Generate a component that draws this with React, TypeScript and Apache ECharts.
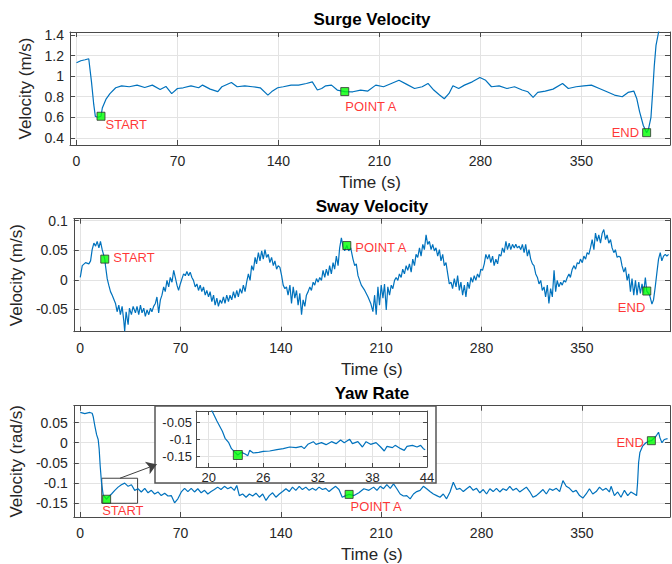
import React, { useEffect, useRef } from "react";
import * as echarts from "echarts";

const timeTicks = [0, 70, 140, 210, 280, 350];
const surgeTicks = [0.4, 0.6, 0.8, 1, 1.2, 1.4];
const swayTicks = [-0.05, 0, 0.05, 0.1];
const yawTicks = [-0.15, -0.1, -0.05, 0, 0.05];
const insetTimeTicks = [20, 23, 26, 29, 32, 35, 38, 41, 44];
const insetTimeLabels = [20, 26, 32, 38, 44];
const insetYawTicks = [-0.15, -0.1, -0.05];

const surgeTime = [0, 3, 6, 8.5, 10.4, 12, 13.1, 15, 17, 17.9, 20.6, 23.2, 27.2, 31.3, 36.6, 42, 47.3, 52.6, 58, 62, 66, 70, 74, 79.4, 84.7, 87.4, 92.7, 98, 100.8, 107.4, 111.4, 116.7, 122, 127.4, 132.7, 135.4, 139.5, 143.4, 148.8, 154, 159.4, 163.5, 167, 170, 172.8, 176.8, 180.8, 186, 191.6, 197, 202, 207.5, 212.9, 218.3, 223.6, 229, 234.4, 239.7, 243.7, 247.7, 251.7, 255, 258.3, 261, 265, 269, 274.4, 279.7, 283.7, 287.7, 293, 298.4, 303.7, 309, 313, 316.6, 319.8, 325, 330.4, 337, 341, 346.4, 351.7, 357, 362.5, 367.8, 373, 378.4, 382.4, 386.4, 388.5, 390.4, 393, 395.3, 396.5, 398.3, 399.5, 400.6, 401.8, 403.6, 405];
const surgeVelocity = [1.13, 1.15, 1.16, 1.17, 0.945, 0.72, 0.607, 0.6, 0.61, 0.69, 0.78, 0.83, 0.887, 0.906, 0.897, 0.913, 0.89, 0.913, 0.87, 0.9, 0.83, 0.88, 0.887, 0.906, 0.887, 0.913, 0.874, 0.85, 0.897, 0.939, 0.897, 0.906, 0.897, 0.887, 0.816, 0.85, 0.887, 0.897, 0.913, 0.913, 0.929, 0.945, 0.865, 0.88, 0.906, 0.913, 0.865, 0.85, 0.848, 0.865, 0.855, 0.913, 0.897, 0.929, 0.96, 0.92, 0.88, 0.897, 0.929, 0.865, 0.816, 0.78, 0.832, 0.906, 0.88, 0.913, 0.945, 0.987, 0.96, 0.897, 0.906, 0.88, 0.897, 0.865, 0.848, 0.794, 0.842, 0.855, 0.874, 0.929, 0.88, 0.897, 0.906, 0.913, 0.88, 0.848, 0.816, 0.8, 0.842, 0.855, 0.78, 0.655, 0.52, 0.45, 0.48, 0.6, 0.85, 1.1, 1.3, 1.43, 1.6];

const swayTime = [0, 1.4, 3.7, 6, 7.2, 8.3, 9.5, 10.7, 11.8, 13, 14.1, 15.3, 17.1, 17.6, 18.8, 19.9, 21.1, 22.3, 24.6, 25.7, 26.9, 28, 29.2, 30.4, 31, 32, 33.4, 34.3, 35.7, 36.9, 38.5, 39.6, 40.8, 42, 43.1, 44.3, 45.4, 46.6, 47.8, 49, 50, 51.2, 52.4, 53.5, 54.7, 55.9, 57, 58.2, 59.3, 60.5, 61.7, 62.8, 64, 65.2, 66.3, 67.5, 68.6, 69.8, 71, 72.1, 73.3, 74.4, 75.6, 76.7, 77.9, 79, 80.2, 81.4, 82.5, 83.7, 84.8, 86, 87.2, 88.3, 89.5, 90.6, 91.8, 93, 94.1, 95.3, 96.4, 97.6, 98.7, 99.9, 101, 102.2, 103.4, 104.5, 105.7, 106.9, 108, 109.2, 110.3, 111.5, 112.7, 113.8, 115, 116.1, 117.3, 118.5, 119.6, 120.8, 122, 123, 124.3, 125.4, 126.6, 127.7, 128.9, 130, 131.2, 132.3, 133.5, 134.7, 135.8, 137, 138.1, 139.3, 140.5, 141.6, 142.8, 143.9, 145, 146.3, 147.4, 148.6, 149.7, 150.9, 152, 153.2, 154.4, 155.5, 156.7, 157.8, 159, 160.2, 161.3, 162.5, 163.6, 164.8, 166, 167.1, 168.3, 169.4, 170.6, 171.7, 172.9, 174, 175.2, 176.4, 177.5, 178.7, 179.9, 181, 182.2, 183.3, 184.5, 186, 187.3, 188.7, 190.3, 191.5, 192.6, 193.8, 196.1, 198.5, 200.8, 202.7, 204.2, 205.4, 206.5, 207.7, 208.8, 210, 211.2, 212.3, 213.5, 214.6, 215.8, 217, 218.1, 219.3, 220.4, 221.6, 222.7, 223.9, 225, 226.2, 227.4, 228.5, 229.7, 230.9, 232, 233.2, 234.3, 235.5, 236.7, 237.8, 239, 240.1, 241.3, 242.4, 243.6, 244.8, 245.9, 247.1, 248.2, 249.4, 250.6, 251.7, 252.9, 254, 255.2, 256.4, 257.5, 258.7, 259.8, 261, 262.2, 263.3, 264.5, 265.6, 266.8, 268, 269.1, 270.3, 271.4, 272.6, 273.8, 274.9, 276, 277.2, 278.4, 279.5, 280.7, 281.9, 283, 284.2, 285.3, 286.5, 287.7, 288.8, 290, 291.2, 292.3, 293.5, 294.6, 295.8, 297, 298.1, 299.3, 300.4, 301.6, 302.8, 303.9, 305, 306.2, 307.4, 308.5, 309.7, 310.8, 312, 313.1, 314.3, 315.5, 316.6, 317.8, 319, 320.1, 321.3, 322.4, 323.6, 324.7, 325.9, 327, 328.2, 329.4, 330.6, 331.7, 332.8, 334, 335.2, 336.3, 337.5, 338.6, 339.8, 341, 342, 343.3, 344.5, 345.6, 346.8, 348, 349, 350.3, 351.4, 352.6, 353.7, 354.9, 356, 357.2, 358.4, 359.5, 360.7, 361.8, 363, 364.2, 365.3, 366.5, 367.6, 368.8, 370, 371.1, 372.3, 373.4, 374.6, 375.8, 376.9, 378, 379.3, 380.4, 381.6, 382.7, 383.9, 385, 386.2, 387.4, 388.5, 389.7, 390.8, 392, 393.1, 394.3, 395.3, 397.3, 398.9, 400, 401.2, 402.4, 403.5, 404.7, 405.8, 407, 408.2, 409.3, 410.5];
const swayVelocity = [0.004, 0.024, 0.029, 0.027, 0.032, 0.051, 0.062, 0.057, 0.065, 0.054, 0.065, 0.051, 0.035, 0.024, 0.002, -0.009, -0.02, -0.026, -0.04, -0.054, -0.043, -0.059, -0.045, -0.07, -0.087, -0.054, -0.076, -0.048, -0.059, -0.045, -0.056, -0.045, -0.059, -0.043, -0.056, -0.048, -0.062, -0.051, -0.059, -0.048, -0.054, -0.045, -0.04, -0.029, -0.056, -0.034, -0.026, -0.012, -0.02, -0.001, -0.012, 0.004, -0.004, 0.016, 0.004, -0.009, -0.018, -0.007, 0.002, 0.01, 0.007, 0.014, 0.007, 0.013, 0.004, -0.001, -0.012, -0.007, -0.018, -0.009, -0.02, -0.012, -0.026, -0.018, -0.029, -0.02, -0.037, -0.026, -0.043, -0.031, -0.045, -0.034, -0.04, -0.029, -0.04, -0.026, -0.037, -0.026, -0.034, -0.02, -0.031, -0.018, -0.029, -0.015, -0.023, -0.009, -0.02, -0.004, 0.01, -0.001, 0.024, 0.016, 0.038, 0.027, 0.046, 0.032, 0.049, 0.035, 0.051, 0.038, 0.043, 0.029, 0.038, 0.024, 0.032, 0.018, 0.024, 0.021, 0.007, -0.009, -0.015, -0.012, -0.026, -0.009, -0.04, -0.012, -0.031, -0.018, -0.043, -0.023, -0.059, -0.034, -0.045, -0.026, -0.02, -0.012, -0.018, -0.004, -0.009, 0.002, -0.004, 0.004, -0.001, 0.016, 0.004, 0.018, 0.007, 0.024, 0.01, 0.029, 0.018, 0.04, 0.024, 0.054, 0.071, 0.057, 0.049, 0.058, 0.049, 0.054, 0.035, 0.024, 0.027, 0.007, -0.009, -0.018, -0.029, -0.04, -0.054, -0.026, -0.059, -0.012, -0.043, -0.009, -0.031, -0.007, -0.051, -0.012, -0.026, -0.009, -0.015, -0.001, 0.004, -0.001, 0.01, 0.004, 0.018, 0.01, 0.024, 0.016, 0.027, 0.013, 0.035, 0.024, 0.043, 0.038, 0.054, 0.04, 0.06, 0.051, 0.076, 0.06, 0.065, 0.051, 0.06, 0.049, 0.054, 0.04, 0.051, 0.032, 0.043, 0.024, 0.029, 0.01, -0.007, -0.004, -0.015, 0.002, -0.012, 0.007, -0.018, -0.004, -0.026, -0.009, -0.029, -0.004, -0.015, 0.004, -0.004, 0.007, -0.001, 0.01, 0.004, 0.018, 0.016, 0.027, 0.043, 0.035, 0.043, 0.029, 0.04, 0.024, 0.035, 0.027, 0.043, 0.04, 0.054, 0.046, 0.065, 0.051, 0.062, 0.051, 0.06, 0.054, 0.06, 0.054, 0.057, 0.051, 0.06, 0.046, 0.06, 0.04, 0.051, 0.035, 0.027, 0.024, 0.01, 0.004, -0.007, -0.001, -0.018, -0.012, -0.029, -0.009, -0.04, -0.015, -0.029, 0.016, -0.02, -0.001, -0.012, -0.004, -0.009, -0.001, -0.004, 0.004, 0.01, 0.004, 0.018, 0.024, 0.018, 0.029, 0.027, 0.035, 0.029, 0.04, 0.035, 0.046, 0.043, 0.054, 0.068, 0.051, 0.079, 0.065, 0.076, 0.062, 0.079, 0.085, 0.068, 0.076, 0.062, 0.068, 0.054, 0.046, 0.051, 0.038, 0.04, 0.038, 0.024, 0.013, 0.021, -0.001, 0.01, -0.02, 0.002, -0.026, -0.001, -0.026, -0.004, -0.023, -0.007, -0.023, 0.004, -0.019, -0.026, -0.041, -0.034, -0.012, 0.013, 0.035, 0.046, 0.032, 0.04, 0.043, 0.04, 0.043];

const yawTime = [0, 3.2, 6.7, 8.3, 9, 10.2, 11.4, 12.5, 13.2, 13.9, 14.8, 16, 18.4, 19.5, 21.8, 24.1, 26.4, 28.7, 31, 33.4, 35.7, 38, 40.3, 42.6, 45, 47.3, 49.6, 51.9, 54.2, 56.5, 58.9, 61.2, 63.5, 65.8, 68.1, 70.5, 72.8, 75.1, 77.4, 79.7, 82, 84.4, 86.7, 89, 91.3, 93.6, 95.9, 98.2, 100.6, 102.9, 105.2, 107.5, 109.2, 111, 113.3, 115.7, 118, 120.3, 122.6, 125, 127.3, 129.6, 131.9, 134.2, 136.5, 138.9, 141.2, 143.5, 145.8, 148.1, 150.4, 152.8, 155, 157.4, 159.7, 162, 164.3, 166.6, 169, 171.3, 173.6, 175.9, 178.2, 180.5, 182.8, 185.2, 187.6, 191, 194.4, 197.9, 201.4, 204.7, 207, 209.3, 211.6, 213.9, 216.3, 218.6, 220.9, 223.2, 225.5, 227.8, 230.2, 232.5, 234.8, 237.1, 239.4, 241.7, 244, 246.4, 248.7, 251, 253.3, 255.6, 258, 260.3, 262.6, 264.9, 267.3, 269.6, 271.9, 274.2, 276.5, 278.8, 281.2, 283.5, 285.8, 288.1, 290.4, 292.7, 295, 297.4, 299.7, 302, 304.3, 306.6, 309, 311.3, 313.6, 315.9, 318.2, 320.5, 322.9, 325.2, 327.5, 329.8, 332.2, 334.5, 336.8, 339.1, 341.4, 343.7, 346, 348.4, 350.7, 353, 355.3, 357.6, 360, 362.3, 364.6, 366.9, 369.2, 370.4, 372.7, 375, 377.3, 379.7, 382, 384.3, 386.6, 388.2, 388.9, 389.6, 390.5, 392.4, 394.7, 397, 398.5, 399.4, 401.7, 403.5, 404.5, 405.9, 407.5, 409.8];
const yawRate = [0.075, 0.072, 0.075, 0.073, 0.065, 0.041, 0.02, 0.008, -0.016, -0.057, -0.098, -0.13, -0.14, -0.135, -0.127, -0.118, -0.11, -0.104, -0.1, -0.108, -0.104, -0.118, -0.114, -0.122, -0.113, -0.124, -0.118, -0.127, -0.122, -0.131, -0.125, -0.132, -0.131, -0.149, -0.139, -0.122, -0.113, -0.121, -0.113, -0.122, -0.114, -0.124, -0.118, -0.127, -0.121, -0.116, -0.11, -0.116, -0.108, -0.114, -0.11, -0.118, -0.106, -0.131, -0.127, -0.135, -0.127, -0.132, -0.125, -0.135, -0.127, -0.143, -0.131, -0.124, -0.135, -0.127, -0.121, -0.114, -0.121, -0.11, -0.118, -0.108, -0.116, -0.11, -0.118, -0.113, -0.118, -0.11, -0.116, -0.113, -0.121, -0.114, -0.108, -0.116, -0.135, -0.131, -0.128, -0.131, -0.124, -0.114, -0.118, -0.11, -0.118, -0.108, -0.114, -0.104, -0.113, -0.102, -0.114, -0.127, -0.132, -0.131, -0.139, -0.127, -0.121, -0.118, -0.108, -0.114, -0.121, -0.127, -0.131, -0.135, -0.127, -0.139, -0.122, -0.098, -0.116, -0.113, -0.121, -0.114, -0.108, -0.118, -0.113, -0.124, -0.116, -0.127, -0.114, -0.121, -0.113, -0.122, -0.114, -0.118, -0.108, -0.118, -0.113, -0.122, -0.116, -0.11, -0.121, -0.135, -0.131, -0.124, -0.116, -0.127, -0.114, -0.118, -0.113, -0.121, -0.094, -0.108, -0.113, -0.122, -0.118, -0.131, -0.137, -0.127, -0.114, -0.127, -0.121, -0.11, -0.118, -0.113, -0.122, -0.108, -0.131, -0.122, -0.135, -0.118, -0.131, -0.122, -0.127, -0.131, -0.098, -0.049, -0.024, -0.008, 0, 0.004, 0.005, 0.008, 0.016, 0.026, 0.012, 0, 0.008, 0.01];

const insetTime = [20.1, 20.9, 21.5, 21.8, 22.2, 22.5, 22.9, 23.2, 23.6, 24, 24.3, 24.5, 24.9, 25.5, 26, 26.7, 27.5, 28.2, 28.9, 29.6, 30.2, 30.5, 30.9, 31.5, 31.8, 32.4, 32.9, 33.5, 34, 34.5, 34.9, 35.5, 35.8, 36.4, 36.9, 37.3, 37.8, 38.4, 38.9, 39.3, 39.6, 40.2, 40.5, 41.1, 41.5, 41.8, 42.4, 42.9, 43.3, 43.6, 43.8];
const insetYawRate = [0, -0.045, -0.076, -0.097, -0.11, -0.128, -0.139, -0.147, -0.139, -0.144, -0.149, -0.133, -0.141, -0.139, -0.136, -0.135, -0.131, -0.128, -0.123, -0.125, -0.121, -0.128, -0.115, -0.107, -0.115, -0.11, -0.116, -0.107, -0.113, -0.102, -0.11, -0.1, -0.113, -0.107, -0.123, -0.107, -0.115, -0.11, -0.123, -0.135, -0.121, -0.125, -0.118, -0.128, -0.133, -0.121, -0.118, -0.123, -0.118, -0.128, -0.131];

const surgeMarkers = [
  { name: "START", t: 17, v: 0.61 },
  { name: "POINT A", t: 186, v: 0.85 },
  { name: "END", t: 395.3, v: 0.45 },
];
const swayMarkers = [
  { name: "START", t: 17.1, v: 0.035 },
  { name: "POINT A", t: 186, v: 0.058 },
  { name: "END", t: 395.3, v: -0.019 },
];
const yawMarkers = [
  { name: "START", t: 18.4, v: -0.14 },
  { name: "POINT A", t: 187.6, v: -0.128 },
  { name: "END", t: 398.5, v: 0.005 },
];
const insetMarker = [{ name: "", t: 23.2, v: -0.147 }];

// zoom box and arrow in yaw-rate data units
const zoomBoxFrom = [15, -0.088];
const zoomBoxTo = [40, -0.15];
const arrowFrom = [27.7, -0.088];
const arrowTo = [53.3, -0.054];

const FONT = '"Liberation Sans", Arial, Helvetica, sans-serif';
const AXIS_COLOR = "#4a4a4a";
const GRID_COLOR = "#e3e3e3";
const TEXT_COLOR = "#262626";
const LINE_COLOR = "#0072BD";

const labelPlacement: Record<string, Record<string, any>> = {
  surge: {
    START: { position: "right", distance: 0, offset: [0, 8] },
    "POINT A": { position: "right", distance: 0, offset: [-4, 15] },
    END: { position: "left", distance: 3, offset: [0, 0] },
  },
  sway: {
    START: { position: "right", distance: 4, offset: [0, -1.5] },
    "POINT A": { position: "right", distance: 4, offset: [0, 2.4] },
    END: { position: "left", distance: 0, offset: [3, 16.5] },
  },
  yaw: {
    START: { position: "right", distance: 0, offset: [-9, 11] },
    "POINT A": { position: "right", distance: 0, offset: [-3, 12.4] },
    END: { position: "left", distance: 3, offset: [0, 1.7] },
  },
};

const zip = (a: number[], b: number[]) => a.map((x, i) => [x, b[i]]);

const fmt = (v: number) => String(Math.round(v * 1000) / 1000);

function mainAxes(gi: number, yMin: number, yMax: number, yTicks: number[], yName: string, yGap: number) {
  const xs = [
    {
      type: "value", gridIndex: gi, position: "bottom", min: -4.5, max: 411.5,
      axisLine: { show: true, onZero: false, lineStyle: { color: AXIS_COLOR, width: 1 } },
      axisTick: { show: true, inside: true, length: 5, customValues: timeTicks, lineStyle: { color: AXIS_COLOR } },
      axisLabel: { show: true, customValues: timeTicks, margin: 9, color: TEXT_COLOR, fontSize: 14, fontFamily: FONT, formatter: fmt },
      splitLine: { show: true, lineStyle: { color: GRID_COLOR, width: 1 } },
      name: "Time (s)", nameLocation: "middle", nameGap: 29,
      nameTextStyle: { color: TEXT_COLOR, fontSize: 17, fontFamily: FONT },
    },
    {
      type: "value", gridIndex: gi, position: "top", min: -4.5, max: 411.5,
      axisLine: { show: true, onZero: false, lineStyle: { color: AXIS_COLOR, width: 1 } },
      axisTick: { show: true, inside: true, length: 5, customValues: timeTicks, lineStyle: { color: AXIS_COLOR } },
      axisLabel: { show: false },
      splitLine: { show: false },
    },
  ];
  const ys = [
    {
      type: "value", gridIndex: gi, position: "left", min: yMin, max: yMax,
      axisLine: { show: true, onZero: false, lineStyle: { color: AXIS_COLOR, width: 1 } },
      axisTick: { show: true, inside: true, length: 5, customValues: yTicks, lineStyle: { color: AXIS_COLOR } },
      axisLabel: { show: true, customValues: yTicks, margin: 6, color: TEXT_COLOR, fontSize: 14, fontFamily: FONT, formatter: fmt },
      splitLine: { show: true, lineStyle: { color: GRID_COLOR, width: 1 } },
      name: yName, nameLocation: "middle", nameRotate: 90, nameGap: yGap,
      nameTextStyle: { color: TEXT_COLOR, fontSize: 17, fontFamily: FONT },
    },
    {
      type: "value", gridIndex: gi, position: "right", min: yMin, max: yMax,
      axisLine: { show: true, onZero: false, lineStyle: { color: AXIS_COLOR, width: 1 } },
      axisTick: { show: true, inside: true, length: 5, customValues: yTicks, lineStyle: { color: AXIS_COLOR } },
      axisLabel: { show: false },
      splitLine: { show: false },
    },
  ];
  return { xs, ys };
}

function markerSeries(key: string, markers: { name: string; t: number; v: number }[], axisIndex: number) {
  return {
    type: "scatter",
    xAxisIndex: axisIndex,
    yAxisIndex: axisIndex,
    symbol: "rect",
    symbolSize: 8,
    z: 4,
    itemStyle: { color: "#00ff00", borderColor: "#303030", borderWidth: 1 },
    data: markers.map((m) => {
      const p = labelPlacement[key][m.name];
      return {
        value: [m.t, m.v],
        name: m.name,
        label: {
          show: true,
          formatter: m.name,
          color: "#ff0000",
          fontSize: 13,
          fontFamily: FONT,
          position: p.position,
          distance: p.distance,
          offset: p.offset,
        },
      };
    }),
  };
}

export default function App() {
  const ref = useRef<HTMLDivElement>(null);
  useEffect(() => {
    if (!ref.current) return;
    const chart = echarts.init(ref.current, undefined, { renderer: "svg" });
    const a1 = mainAxes(0, 0.33, 1.43, surgeTicks, "Velocity (m/s)", 25);
    const a2 = mainAxes(1, -0.0878, 0.1034, swayTicks, "Velocity (m/s)", 42);
    const a3 = mainAxes(2, -0.184, 0.0917, yawTicks, "Velocity (rad/s)", 42);

    const insetX = [
      {
        type: "value", gridIndex: 3, position: "bottom", min: 18.6, max: 44, z: 6,
        axisLine: { show: true, onZero: false, lineStyle: { color: AXIS_COLOR, width: 1 } },
        axisTick: { show: true, inside: true, length: 4, customValues: insetTimeTicks, lineStyle: { color: AXIS_COLOR } },
        axisLabel: { show: true, customValues: insetTimeLabels, margin: 4, color: TEXT_COLOR, fontSize: 13, fontFamily: FONT, formatter: fmt },
        splitLine: { show: true, lineStyle: { color: GRID_COLOR, width: 1 } },
      },
      {
        type: "value", gridIndex: 3, position: "top", min: 18.6, max: 44, z: 6,
        axisLine: { show: true, onZero: false, lineStyle: { color: AXIS_COLOR, width: 1 } },
        axisTick: { show: true, inside: true, length: 4, customValues: insetTimeTicks, lineStyle: { color: AXIS_COLOR } },
        axisLabel: { show: false },
        splitLine: { show: false },
      },
    ];
    const insetY = [
      {
        type: "value", gridIndex: 3, position: "left", min: -0.183, max: -0.015, z: 6,
        axisLine: { show: true, onZero: false, lineStyle: { color: AXIS_COLOR, width: 1 } },
        axisTick: { show: true, inside: true, length: 4, customValues: insetYawTicks, lineStyle: { color: AXIS_COLOR } },
        axisLabel: { show: true, customValues: insetYawTicks, margin: 4, color: TEXT_COLOR, fontSize: 13, fontFamily: FONT, formatter: fmt },
        splitLine: { show: true, lineStyle: { color: GRID_COLOR, width: 1 } },
      },
      {
        type: "value", gridIndex: 3, position: "right", min: -0.183, max: -0.015, z: 6,
        axisLine: { show: true, onZero: false, lineStyle: { color: AXIS_COLOR, width: 1 } },
        axisTick: { show: true, inside: true, length: 4, customValues: insetYawTicks, lineStyle: { color: AXIS_COLOR } },
        axisLabel: { show: false },
        splitLine: { show: false },
      },
    ];

    const lineStyle = { color: LINE_COLOR, width: 1.2 };
    const titleStyle = { fontSize: 17, fontWeight: "bold", fontFamily: FONT, fill: "#000", align: "center", verticalAlign: "middle" };

    chart.setOption({
      animation: false,
      backgroundColor: "#ffffff",
      grid: [
        { left: 70, top: 32, width: 600, height: 113 },
        { left: 70, top: 218.7, width: 600, height: 113 },
        { left: 70, top: 405.7, width: 600, height: 112.6 },
        { left: 196, top: 411, width: 231, height: 56 },
      ],
      xAxis: [...a1.xs, ...a2.xs, ...a3.xs, ...insetX],
      yAxis: [...a1.ys, ...a2.ys, ...a3.ys, ...insetY],
      graphic: [
        { type: "text", x: 372, y: 19, style: { ...titleStyle, text: "Surge Velocity" } },
        { type: "text", x: 372, y: 206.5, style: { ...titleStyle, text: "Sway Velocity" } },
        { type: "text", x: 372, y: 393, style: { ...titleStyle, text: "Yaw Rate" } },
        { type: "rect", z: 5, shape: { x: 155, y: 406, width: 281, height: 77 }, style: { fill: "#ffffff", stroke: "#555555", lineWidth: 1.5 } },
      ],
      series: [
        { type: "line", xAxisIndex: 0, yAxisIndex: 0, data: zip(surgeTime, surgeVelocity), showSymbol: false, lineStyle, z: 2 },
        markerSeries("surge", surgeMarkers, 0),
        { type: "line", xAxisIndex: 2, yAxisIndex: 2, data: zip(swayTime, swayVelocity), showSymbol: false, lineStyle, z: 2 },
        markerSeries("sway", swayMarkers, 2),
        {
          type: "line", xAxisIndex: 4, yAxisIndex: 4, data: zip(yawTime, yawRate), showSymbol: false, lineStyle, z: 2,
          markArea: {
            silent: true,
            itemStyle: { color: "rgba(0,0,0,0)", borderColor: "#404040", borderWidth: 1 },
            data: [[{ coord: zoomBoxFrom }, { coord: zoomBoxTo }]],
          },
          markLine: {
            silent: true,
            symbol: ["none", "arrow"],
            symbolSize: 10,
            label: { show: false },
            lineStyle: { color: "#404040", width: 1, type: "solid" },
            data: [[{ coord: arrowFrom }, { coord: arrowTo }]],
          },
        },
        markerSeries("yaw", yawMarkers, 4),
        { type: "line", xAxisIndex: 6, yAxisIndex: 6, data: zip(insetTime, insetYawRate), showSymbol: false, lineStyle, z: 7 },
        {
          type: "scatter", xAxisIndex: 6, yAxisIndex: 6, symbol: "rect", symbolSize: 9, z: 8,
          itemStyle: { color: "#00ff00", borderColor: "#303030", borderWidth: 1 },
          data: insetMarker.map((m) => [m.t, m.v]),
        },
      ],
    });
    return () => chart.dispose();
  }, []);
  return <div ref={ref} style={{ position: "absolute", left: 0, top: 0, width: 672, height: 564 }} />;
}
